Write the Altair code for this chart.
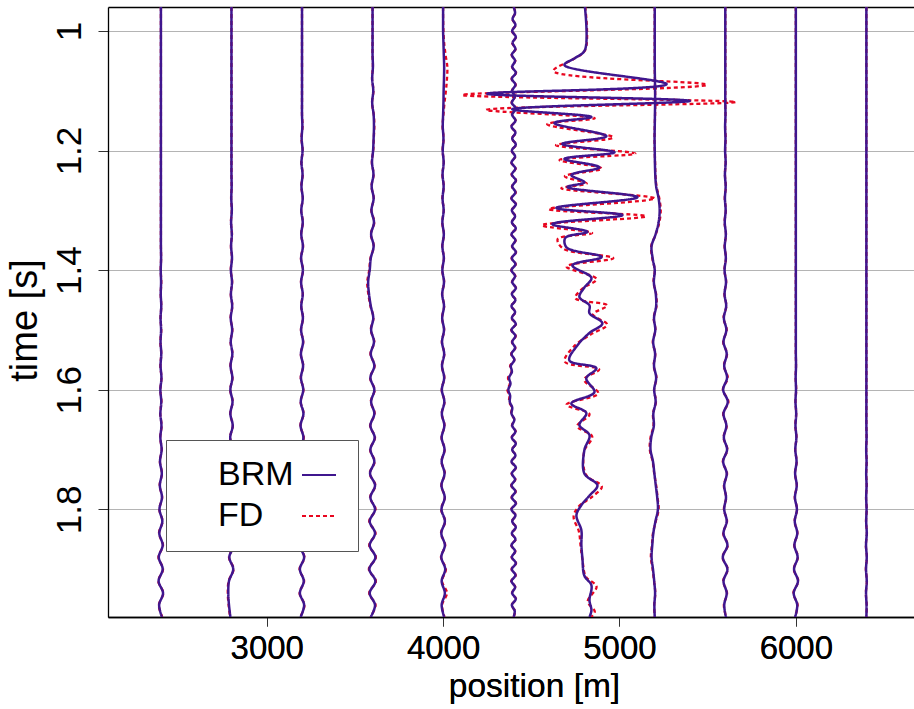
import altair as alt
import pandas as pd

# ---------------- data ----------------
TRACE_POS = [2400, 2800, 3200, 3600, 4000, 4400, 4800, 5200, 5600, 6000, 6400]
SERIES = ["BRM", "FD"]
X_TICKS = [3000, 4000, 5000, 6000]
Y_TICKS = [1.0, 1.2, 1.4, 1.6, 1.8]

# time samples (s) used by the small-amplitude traces
T_GRID = [0.96, 0.98, 1.00, 1.02, 1.04, 1.06, 1.08, 1.10, 1.12, 1.14, 1.16, 1.18, 1.20,
          1.22, 1.24, 1.26, 1.28, 1.30, 1.32, 1.34, 1.36, 1.38, 1.40, 1.42, 1.44, 1.46,
          1.48, 1.50, 1.52, 1.54, 1.56, 1.58, 1.60, 1.62, 1.64, 1.66, 1.68, 1.70, 1.72,
          1.74, 1.76, 1.78, 1.80, 1.82, 1.84, 1.86, 1.88, 1.90, 1.92, 1.94, 1.96, 1.98]

T_FINE = [0.96, 0.97, 0.98, 0.99, 1.00, 1.01, 1.02, 1.03, 1.04, 1.05, 1.06, 1.07, 1.08,
          1.09, 1.10, 1.11, 1.12, 1.13, 1.14, 1.15, 1.16, 1.17, 1.18, 1.19, 1.20, 1.21,
          1.22, 1.23, 1.24, 1.25, 1.26, 1.27, 1.28, 1.29, 1.30, 1.31, 1.32, 1.33, 1.34,
          1.35, 1.36, 1.37, 1.38, 1.39, 1.40, 1.41, 1.42, 1.43, 1.44, 1.45, 1.46, 1.47,
          1.48, 1.49, 1.50, 1.51, 1.52, 1.53, 1.54, 1.55, 1.56, 1.57, 1.58, 1.59, 1.60,
          1.61, 1.62, 1.63, 1.64, 1.65, 1.66, 1.67, 1.68, 1.69, 1.70, 1.71, 1.72, 1.73,
          1.74, 1.75, 1.76, 1.77, 1.78, 1.79, 1.80, 1.81, 1.82, 1.83, 1.84, 1.85, 1.86,
          1.87, 1.88, 1.89, 1.90, 1.91, 1.92, 1.93, 1.94, 1.95, 1.96, 1.97, 1.98]

# trace deflections in metres, sampled on T_GRID
BRM_2400 = [0, 0, 0, 0, 0, 0, 0, 0, 0, 0, 0, 0, 0, 0, 0, 0, 0, 0, 0, 0,
            0, 1, -1, 1, -1, 2, -2, 1, -2, 2, -2, 3, -3, 2, -3, 3, -3,
            4, -5, 5, -6, 6, -8, 8, -9, 10, -12, 10, -13, 12, -10, 6]
FD_2400 = [0, 0, 0, 0, 0, 0, 0, 0, 0, 0, 0, 0, 0, 0, 0, 0, 0, 0, 0, 0,
           0, 1, -1, 2, -1, 2, -2, 2, -3, 2, -3, 3, -3, 3, -4, 4, -4,
           5, -6, 6, -7, 7, -9, 9, -11, 12, -14, 12, -15, 14, -12, 8]

BRM_2800 = [0, 0, 0, 0, 0, 0, 0, 0, 0, 0, 0, 0, 0, 0, 0,
            1, -1, 2, -2, 2, -2, 3, -3, 3, -3, 4, -4, 4, -4, 5, -5, 5, -6, 6, -6,
            7, -7, 8, -8, 9, -9, 10, -10, 10, -12, 12, -12, 10, -14, -18, -14, -6]
FD_2800 = [0, 0, 0, 0, 0, 0, 0, 0, 0, 0, 0, 0, 0, 0, 0,
           1, -2, 2, -3, 3, -3, 3, -4, 4, -4, 5, -5, 5, -5, 6, -6, 6, -7, 7, -7,
           8, -8, 9, -9, 10, -11, 12, -12, 12, -14, 14, -14, 12, -16, -21, -16, -8]

BRM_3200 = [0, 0, 0, 0, 0, 0, 0, 0, 0, 0,
            2, -2, 3, -3, 3, -3, 4, -4, 4, -4, 5, -5, 5, -5, 4, -4, 5, -5, 6, -6,
            6, -6, 7, -7, 8, -8, 8, -8, 9, -9, 10, -10, 12, -10, 12, -12, 12, -12, 10, -12, 12, -8]
FD_3200 = [0, 0, 0, 0, 0, 0, 0, 0, 0, 0,
           3, -3, 4, -4, 4, -4, 5, -5, 5, -5, 6, -6, 6, -6, 5, -5, 6, -6, 7, -7,
           7, -7, 8, -8, 9, -9, 10, -9, 11, -10, 12, -12, 14, -12, 16, -14, 14, -14, 12, -14, 14, -10]

BRM_3600 = [0, 0, 0, 0, 0,
            2, -2, 4, -2, 6, 8, 6, 3, -3, 5,
            -5, 6, -6, 8, -8, 6, -10, -16, -25, -20, -10, 4, -8, 8, -10,
            10, -12, 10, -8, 10, -12, 12, -12, 10, -14, 14, -12, 14, -16, 14, -16, 16, -18, 16, -16, 14, -10]
FD_3600 = [0, 0, 0, 0, 0,
           2, -3, 5, -3, 7, 10, 7, 4, -4, 6,
           -6, 7, -7, 10, -10, 7, -12, -19, -30, -24, -12, 5, -10, 10, -12,
           12, -14, 12, -10, 12, -14, 14, -14, 12, -16, 16, -14, 17, -19, 17, -19, 19, -21, 19, -19, 17, -12]

BRM_4000 = [0, 0, 0, 2,
            4, 6, 5, 3, 2, 0,
            -2, 2, -2, 3, -3, 3, -3, 3, -4, 4, -4, 4, -4, 5, -5, 5, -5, 5, -6, 6,
            -6, 6, -7, 7, -7, 7, -8, 8, -8, 8, -9, 9, -9, 10, -10, 10, -10, 12, -8, 10, -8, 6]
FD_4000 = [0, 0, 2, 6,
           14, 24, 22, 16, 8, 2,
           -3, 3, -3, 4, -4, 4, -4, 4, -5, 5, -5, 5, -5, 6, -6, 6, -6, 6, -7, 7,
           -7, 7, -8, 8, -8, 8, -9, 9, -9, 10, -10, 10, -11, 12, -12, 12, -12, 16, -6, 22, -6, 8]

# 4400 m trace: sampled on T_FINE
BRM_4400 = [0, 8, -6, 10, -8, 12, -6, 10, -10, 8, -8,
            12, -10, 10, -8, 6, -10, 12, -8, 10, -12,
            10, -8, 12, -10, 8, -12, 10, -10, 12, -8,
            10, -12, 12, -10, 8, -10, 12, -12, 10, -8,
            12, -10, 10, -12, 8, -8, 12, -10, 10, -12,
            8, -10, 12, -12, 10, -8, 8, -12, 4, -16,
            -10, -26, -18, -30, -20, -22, -8, -12, 4, -8,
            10, -10, 12, -8, 10, -12, 12, -10, 8, -12,
            10, -10, 12, -12, 10, -8, 12, -10, 10, -12,
            8, -10, 12, -10, 10, -12, 8, -8, 12, -10, 6, 0]
FD_4400 = [0, 10, -8, 12, -10, 14, -8, 12, -12, 10, -10,
           14, -12, 12, -10, 8, -12, 14, -10, 12, -14,
           12, -10, 14, -12, 10, -14, 12, -12, 14, -10,
           12, -14, 14, -12, 10, -12, 14, -14, 12, -10,
           14, -12, 12, -14, 10, -10, 14, -12, 12, -14,
           10, -12, 14, -14, 12, -10, 10, -14, 4, -20,
           -12, -32, -22, -36, -24, -26, -10, -14, 4, -10,
           12, -12, 14, -10, 12, -14, 14, -12, 10, -14,
           12, -12, 14, -14, 12, -10, 14, -12, 12, -14,
           10, -12, 14, -12, 12, -14, 10, -10, 14, -12, 8, 0]

# 4800 m trace: large event, own time samples, absolute positions (m)
T_4800_BRM = [0.96, 1.032, 1.045, 1.057, 1.089, 1.105, 1.117, 1.131, 1.144, 1.154, 1.176,
              1.189, 1.203, 1.214, 1.228, 1.241, 1.253, 1.261, 1.278, 1.296, 1.308, 1.323,
              1.336, 1.346, 1.362, 1.378, 1.392, 1.413, 1.429, 1.445, 1.459, 1.472, 1.489,
              1.505, 1.526, 1.551, 1.564, 1.581, 1.604, 1.623, 1.639, 1.659, 1.676, 1.701,
              1.740, 1.760, 1.777, 1.793, 1.810, 1.835, 1.860, 1.882, 1.911, 1.927, 1.952,
              1.969, 1.98]
X_4800_BRM = [4804, 4804, 4750, 4688, 5267, 4250, 5399, 4392, 4841, 4631, 4926,
              4676, 4972, 4688, 4886, 4727, 4801, 4705, 5102, 4642, 5017, 4619,
              4818, 4693, 4700, 4899, 4733, 4841, 4801, 4773, 4830, 4830, 4903,
              4830, 4761, 4716, 4869, 4812, 4858, 4727, 4812, 4773, 4830, 4801,
              4801, 4875, 4830, 4784, 4756, 4784, 4784, 4790, 4801, 4841, 4830,
              4841, 4830]
T_4800_FD = [0.96, 1.032, 1.047, 1.067, 1.090, 1.107, 1.119, 1.132, 1.146, 1.156, 1.178,
             1.191, 1.205, 1.216, 1.230, 1.243, 1.255, 1.263, 1.280, 1.298, 1.310, 1.325,
             1.338, 1.348, 1.364, 1.380, 1.394, 1.415, 1.431, 1.447, 1.459, 1.474, 1.491,
             1.507, 1.528, 1.553, 1.566, 1.583, 1.606, 1.625, 1.641, 1.661, 1.678, 1.703,
             1.742, 1.762, 1.779, 1.795, 1.812, 1.837, 1.862, 1.884, 1.913, 1.929, 1.954,
             1.971, 1.98]
X_4800_FD = [4806, 4806, 4740, 4626, 5495, 4108, 5659, 4244, 4860, 4590, 4965,
             4640, 5090, 4660, 4900, 4690, 4815, 4670, 5200, 4600, 5150, 4560,
             4845, 4650, 4680, 4965, 4700, 4870, 4790, 4750, 4930, 4850, 4930,
             4840, 4740, 4690, 4885, 4800, 4880, 4700, 4830, 4760, 4845, 4800,
             4810, 4900, 4845, 4770, 4740, 4770, 4780, 4790, 4810, 4870, 4820,
             4860, 4840]

BRM_5200 = [0, 0, 0, 0, 0, 0, 1, 2, 2, 1, 0, -1, 0, 1, 3,
            8, 22, 28, 22, 5, -18, -12, 0, -5, 6, 8, -4, 3, -9, 2, -4, 8, -3, 5, -8,
            -5, -20, -24, -10, -2, 6, 14, 18, 4, -8, -14, -18, -10, -3, 2, -2, 0]
FD_5200 = [0, 0, 0, 0, 0, 0, 1, 2, 3, 2, 0, -1, 0, 2, 4,
           10, 26, 34, 26, 6, -20, -14, 0, -7, 8, 10, -6, 4, -11, 3, -6, 10, -4, 7, -10,
           -7, -24, -28, -12, -3, 8, 16, 22, 6, -10, -16, -22, -12, -4, 3, -3, 0]

BRM_5600 = [0, 0, 0, 0, 0, 0, 0, 0, 0, 1, -1, 1, -1, 2, -2, 2, -2, 2, -3, 3, -3, 3,
            -4, 4, -4, 5, -8, 6, -10, 8, -6, 10, -12, 14, -10, 6, -8, 10, -12, 8, -6, 4,
            -6, 8, -10, 12, -14, 12, -10, 8, -6, 4]
FD_5600 = [0, 0, 0, 0, 0, 0, 0, 0, 0, 1, -1, 2, -1, 2, -2, 3, -3, 3, -4, 4, -4, 4,
           -5, 5, -5, 6, -10, 8, -12, 10, -8, 14, -14, 18, -12, 8, -10, 12, -14, 10, -8, 5,
           -8, 10, -12, 14, -16, 14, -12, 10, -8, 5]

BRM_6000 = [0, 0, 0, 0, 0, 0, 0, 0, 0, 0, 0, 0, 0, 0, 0, 0, 0, 0, 0, 0, 0, 0, 0, 0, 0, 0, 0, 0, 0, 0,
            1, -1, 1, -2, 2, -2,
            3, -3, 4, -4, 5, -5, 6, -6, 8, -8, 10, -10, 12, -12, 8, -4]
FD_6000 = [0, 0, 0, 0, 0, 0, 0, 0, 0, 0, 0, 0, 0, 0, 0, 0, 0, 0, 0, 0, 0, 0, 0, 0, 0, 0, 0, 0, 0, 0,
           1, -1, 2, -2, 2, -3,
           4, -4, 5, -5, 6, -6, 7, -7, 9, -9, 12, -12, 14, -14, 10, -5]

BRM_6400 = [0, 0, 0, 0, 0, 0, 0, 0, 0, 0, 0, 0, 0, 0, 0, 0, 0, 0, 0, 0, 0, 0, 0, 0, 0, 0,
            0, 0, 0, 0, 0, 0, 0, 0, 0, 0, 1, -1, 1, -1, 1, -1, 1, -1, 2, -2, 2, -2, 2, -2, 1, 0]
FD_6400 = [0, 0, 0, 0, 0, 0, 0, 0, 0, 0, 0, 0, 0, 0, 0, 0, 0, 0, 0, 0, 0, 0, 0, 0, 0, 0,
           0, 0, 0, 0, 0, 0, 0, 0, 0, 0, 1, -1, 2, -1, 2, -2, 2, -2, 3, -3, 3, -3, 3, -3, 2, 0]

# ---------------- table ----------------
rows = []


def add_offsets(base, series, times, offsets):
    assert len(times) == len(offsets), (base, series, len(times), len(offsets))
    for i, (t, o) in enumerate(zip(times, offsets)):
        rows.append({"trace": base, "series": series, "time": t, "pos": base + o, "idx": i})


def add_absolute(base, series, times, positions):
    assert len(times) == len(positions), (base, series, len(times), len(positions))
    for i, (t, p) in enumerate(zip(times, positions)):
        rows.append({"trace": base, "series": series, "time": t, "pos": p, "idx": i})


grid_traces = {
    2400: (BRM_2400, FD_2400), 2800: (BRM_2800, FD_2800), 3200: (BRM_3200, FD_3200),
    3600: (BRM_3600, FD_3600), 4000: (BRM_4000, FD_4000), 5200: (BRM_5200, FD_5200),
    5600: (BRM_5600, FD_5600), 6000: (BRM_6000, FD_6000), 6400: (BRM_6400, FD_6400),
}
for base, (b, f) in grid_traces.items():
    add_offsets(base, "BRM", T_GRID, b)
    add_offsets(base, "FD", T_GRID, f)
add_offsets(4400, "BRM", T_FINE, BRM_4400)
add_offsets(4400, "FD", T_FINE, FD_4400)
add_absolute(4800, "BRM", T_4800_BRM, X_4800_BRM)
add_absolute(4800, "FD", T_4800_FD, X_4800_FD)

df = pd.DataFrame(rows)

# ---------------- chart ----------------
FONT = "Liberation Sans"
BRM_COLOR = "#3f168e"
FD_COLOR = "#e8061f"

x_scale = alt.Scale(domain=[2100, 6670], nice=False, zero=False)
y_scale = alt.Scale(domain=[0.96, 1.98], reverse=True, nice=False, zero=False)

x_axis = alt.Axis(orient="bottom", values=X_TICKS, format="d", title="position [m]",
                  grid=False, domainColor="black", domainWidth=1.3, tickColor="#333333",
                  tickSize=9, tickWidth=1, labelFontSize=33, titleFontSize=33.5,
                  labelPadding=6, titlePadding=5, titleX=426, labelFont=FONT, titleFont=FONT,
                  labelColor="black", titleColor="black", titleFontWeight="normal")
y_axis = alt.Axis(values=Y_TICKS, format=".1~f", title="time [s]", grid=True,
                  gridColor="#b4b4b4", gridWidth=1, domainColor="black", domainWidth=1.3,
                  tickColor="#333333", tickSize=10, tickWidth=1, labelFontSize=35,
                  titleFontSize=38, labelAngle=270, labelAlign="center",
                  labelBaseline="bottom", labelPadding=11, titlePadding=8, titleY=313,
                  labelFont=FONT, titleFont=FONT, labelColor="black", titleColor="black",
                  titleFontWeight="normal")

# legend: text first, line sample to its right (custom symbol path drawn right of its slot)
legend = alt.Legend(title=None, orient="none", legendX=58, legendY=433,
                    labelFontSize=34, labelFont=FONT, labelColor="black",
                    symbolType="M50.5,0H67.5", symbolSize=16, symbolStrokeWidth=2,
                    labelOffset=0, rowPadding=7,
                    fillColor="white", strokeColor="#555555", padding=18,
                    cornerRadius=0)

color = alt.Color("series:N", scale=alt.Scale(domain=SERIES, range=[BRM_COLOR, FD_COLOR]),
                  legend=legend)
dash = alt.StrokeDash("series:N", scale=alt.Scale(domain=SERIES, range=[[1, 0], [4, 3]]),
                      legend=legend)

base = alt.Chart(df)

fd_layer = base.transform_filter(alt.datum.series == "FD").mark_line(
    interpolate="catmull-rom", strokeWidth=2.3, clip=True
).encode(
    x=alt.X("pos:Q", scale=x_scale, axis=x_axis),
    y=alt.Y("time:Q", scale=y_scale, axis=y_axis),
    color=color, strokeDash=dash, detail="trace:N", order="idx:Q",
)

brm_layer = base.transform_filter(alt.datum.series == "BRM").mark_line(
    interpolate="catmull-rom", strokeWidth=2.5, clip=True
).encode(
    x=alt.X("pos:Q", scale=x_scale, axis=x_axis),
    y=alt.Y("time:Q", scale=y_scale, axis=y_axis),
    color=color, strokeDash=dash, detail="trace:N", order="idx:Q",
)

top_border = base.mark_point(opacity=0).encode(
    x=alt.X("pos:Q", scale=x_scale,
            axis=alt.Axis(orient="top", labels=False, ticks=False, grid=False, title=None,
                          domainColor="black", domainWidth=1.3)),
)

chart = alt.layer(fd_layer, brm_layer, top_border).resolve_axis(x="independent").properties(
    width=806, height=610,
    autosize=alt.AutoSizeParams(type="none"),
    padding={"left": 108, "top": 7, "right": 0, "bottom": 92},
    background="white",
).configure_view(strokeWidth=0)

chart.save("out.html", embed_options={"renderer": "svg", "actions": False})
